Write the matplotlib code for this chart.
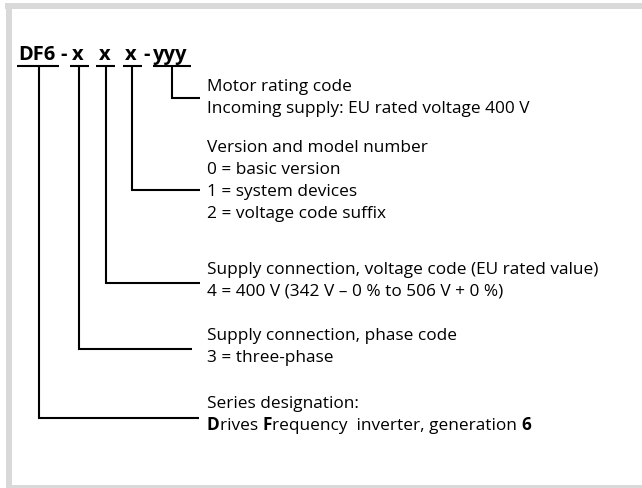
import matplotlib
matplotlib.use("Agg")
from matplotlib import pyplot as plt
from matplotlib.patches import Rectangle

plt.rcParams['font.family'] = ['Open Sans', 'DejaVu Sans']

# type code pieces: text, left x of glyphs, underline span
code_parts = ['DF6', '-', 'x', 'x', 'x', '-', 'yyy']
code_x = [18, 60, 72, 99, 125, 143, 153]
under_l = [17, 70, 96, 123, 153]
under_r = [59, 89, 115, 142, 191]

# leader lines: vertical x, bottom y, right end of horizontal
lead_x = [39, 79, 106, 132, 172]
lead_y = [419, 350, 284, 191, 99]
lead_end = [199, 192, 200, 200, 200]

# description blocks: first baseline and lines
blocks = [
    (91, ['Motor rating code',
          'Incoming supply: EU rated voltage 400 V']),
    (152, ['Version and model number',
           '0 = basic version',
           '1 = system devices',
           '2 = voltage code suffix']),
    (274, ['Supply connection, voltage code (EU rated value)',
           '4 = 400 V (342 V \u2013 0 % to 506 V + 0 %)']),
    (340, ['Supply connection, phase code',
           '3 = three-phase']),
    (408, ['Series designation:']),
]
last_line = [('D', 'bold'), ('rives ', 'normal'), ('F', 'bold'),
             ('requency  inverter, generation ', 'normal'), ('6', 'bold')]

W, H = 642, 489
fig = plt.figure(figsize=(W / 100, H / 100), dpi=100)
ax = fig.add_axes([0, 0, 1, 1])
ax.set_xlim(0, W)
ax.set_ylim(H, 0)
ax.axis('off')

gray = '#d9d9d9'
ax.add_patch(Rectangle((5, 3.5), W, 6.5, color=gray, lw=0))
ax.add_patch(Rectangle((6, 3.5), 6, H, color=gray, lw=0))
ax.add_patch(Rectangle((6, 486), W, 5, color=gray, lw=0))

tx = 207
fs = 12.4
lh = 22

for t, x in zip(code_parts, code_x):
    ax.text(x, 60, t, fontsize=14.5, fontweight='bold', va='baseline', ha='left')

for l, r in zip(under_l, under_r):
    ax.plot([l, r], [67, 67], color='black', lw=1.5, solid_capstyle='butt')

for x, y, e in zip(lead_x, lead_y, lead_end):
    ax.plot([x, x, e], [67, y, y], color='black', lw=1.5,
            solid_capstyle='butt', solid_joinstyle='miter')

for y0, lines in blocks:
    for i, s in enumerate(lines):
        ax.text(tx, y0 + i * lh, s, fontsize=fs, va='baseline', ha='left')

fig.canvas.draw()
r = fig.canvas.get_renderer()
x = tx
for s, w in last_line:
    t = ax.text(x, 408 + lh, s, fontsize=fs, fontweight=w, va='baseline', ha='left')
    bb = t.get_window_extent(renderer=r)
    x += bb.width * W / fig.bbox.width

fig.savefig('out.png', dpi=100)
